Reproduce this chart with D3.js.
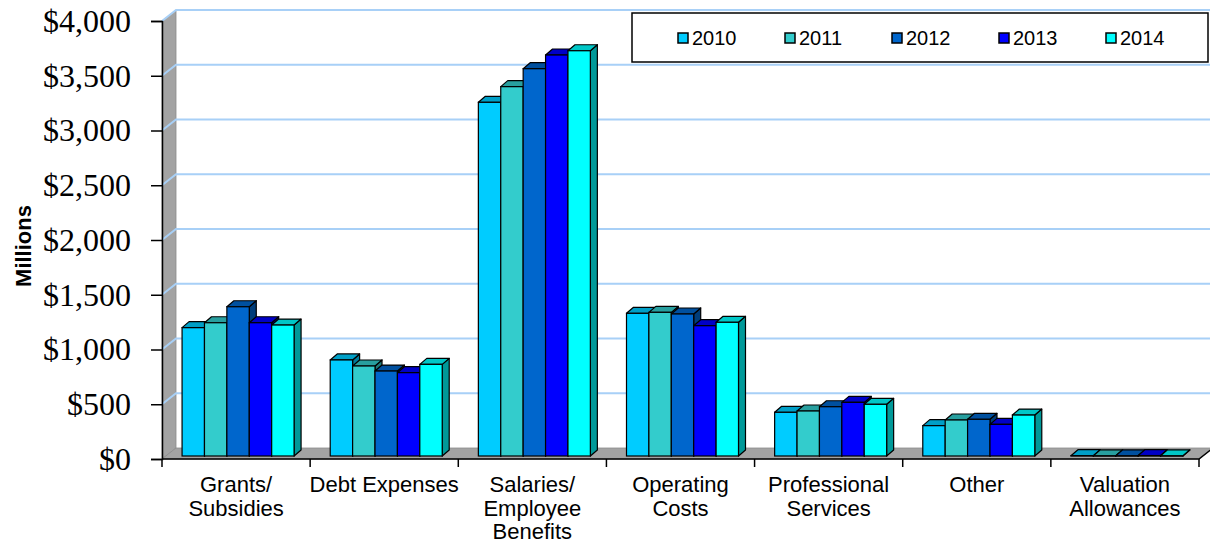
<!DOCTYPE html>
<html>
<head>
<meta charset="utf-8">
<script src="https://cdn.jsdelivr.net/npm/d3@7"></script>
<style>
  body { margin: 0; background: #fff; }
  svg { display: block; }
</style>
</head>
<body>
<div id="chart"></div>
<script>
var svgWidth = 1210;
var svgHeight = 545;

// data (millions)
var categories = ["Grants/\nSubsidies", "Debt Expenses", "Salaries/\nEmployee\nBenefits",
  "Operating\nCosts", "Professional\nServices", "Other", "Valuation\nAllowances"];
var years = ["2010", "2011", "2012", "2013", "2014"];
var values2010 = [1172, 877, 3230, 1303, 399, 277, 3];
var values2011 = [1217, 822, 3373, 1312, 411, 329, 2];
var values2012 = [1363, 776, 3537, 1297, 450, 335, 2];
var values2013 = [1217, 761, 3662, 1190, 490, 289, 4];
var values2014 = [1196, 837, 3701, 1221, 472, 374, 2];
var series = [values2010, values2011, values2012, values2013, values2014];
var colors = ["#00ccff", "#33cccc", "#0066cc", "#0000ff", "#00ffff"];
var yTicks = [0, 500, 1000, 1500, 2000, 2500, 3000, 3500, 4000];

// front plane of the fake 3d box
var x0 = 162, x1 = 1199;
var wallDx = 14, wallDy = -11;   // back wall offset
var barDx = 3, barDy = -3;       // front face of bars
var depthDx = 7, depthDy = -6;   // bar depth

var svg = d3.select("#chart")
  .append("svg")
  .attr("width", svgWidth)
  .attr("height", svgHeight);

var yScale = d3.scaleLinear()
  .domain([0, 4000])
  .range([459, 21]);

var xScale = d3.scaleBand()
  .domain(d3.range(categories.length))
  .range([x0, x1])
  .padding(0);

var groupW = 112;
var xInner = d3.scaleBand()
  .domain(years)
  .range([0, groupW])
  .padding(0);

var line = d3.line();

// side wall
svg.append("path")
  .attr("d", line([[x0, yScale(0)], [x0, yScale(4000)], [x0 + wallDx, yScale(4000) + wallDy], [x0 + wallDx, yScale(0) + wallDy]]) + "Z")
  .attr("fill", "#a3a3a3")
  .attr("stroke", "#8a8a8a")
  .attr("stroke-width", 0.8);

// floor
svg.append("path")
  .attr("d", line([[x0, yScale(0)], [x1, yScale(0)], [x1 + wallDx, yScale(0) + wallDy], [x0 + wallDx, yScale(0) + wallDy]]) + "Z")
  .attr("fill", "#a3a3a3")
  .attr("stroke", "#8a8a8a")
  .attr("stroke-width", 0.8);

// gridlines on the back wall and side wall
var grid = svg.append("g");
yTicks.slice(1).forEach(function (v) {
  grid.append("path")
    .attr("d", line([[x0, yScale(v)], [x0 + wallDx, yScale(v) + wallDy], [svgWidth + 5, yScale(v) + wallDy]]))
    .attr("fill", "none")
    .attr("stroke", "#a8d0f7")
    .attr("stroke-width", 2);
});

// bars
var barsGroup = svg.append("g");
categories.forEach(function (cat, ci) {
  var start = xScale(ci) + (xScale.bandwidth() - groupW) / 2 + 2;
  years.forEach(function (yr, si) {
    var v = series[si][ci];
    var bx = start + xInner(yr);
    var bw = xInner.bandwidth();
    var yt = yScale(v) + barDy;
    var yb = yScale(0) + barDy;
    var c = d3.rgb(colors[si]);
    var topC = d3.rgb(c.r * 0.78, c.g * 0.78, c.b * 0.78);
    var sideC = d3.rgb(c.r * 0.6, c.g * 0.6, c.b * 0.6);
    var g = barsGroup.append("g");
    g.append("path")
      .attr("d", line([[bx + bw, yt], [bx + bw + depthDx, yt + depthDy], [bx + bw + depthDx, yb + depthDy], [bx + bw, yb]]) + "Z")
      .attr("fill", sideC)
      .attr("stroke", "#000")
      .attr("stroke-width", 1.2)
      .attr("stroke-linejoin", "round");
    g.append("path")
      .attr("d", line([[bx, yt], [bx + bw, yt], [bx + bw + depthDx, yt + depthDy], [bx + depthDx, yt + depthDy]]) + "Z")
      .attr("fill", topC)
      .attr("stroke", "#000")
      .attr("stroke-width", 1.2)
      .attr("stroke-linejoin", "round");
    g.append("rect")
      .attr("x", bx)
      .attr("y", yt)
      .attr("width", bw)
      .attr("height", yb - yt)
      .attr("fill", c)
      .attr("stroke", "#000")
      .attr("stroke-width", 1.2);
  });
});

// y axis
var yAxis = svg.append("g")
  .attr("transform", `translate(${x0}, 0)`)
  .call(d3.axisLeft(yScale).tickValues(yTicks).tickSize(11).tickPadding(20)
    .tickFormat(function (d) { return "$" + d3.format(",")(d); }));
yAxis.select(".domain").attr("stroke", "#000").attr("stroke-width", 1.5);
yAxis.selectAll(".tick line").attr("stroke", "#000").attr("stroke-width", 1.5);
yAxis.selectAll(".tick text")
  .attr("font-family", "'Liberation Serif', 'Times New Roman', serif")
  .attr("font-size", 32)
  .attr("fill", "#000");

// x axis
var xAxis = svg.append("g")
  .attr("transform", `translate(0, ${yScale(0)})`);
xAxis.append("path")
  .attr("d", line([[x0, 0], [x1, 0], [x1 + wallDx, wallDy]]))
  .attr("fill", "none")
  .attr("stroke", "#000")
  .attr("stroke-width", 1.5);
d3.range(categories.length + 1).forEach(function (i) {
  var tx = x0 + i * xScale.bandwidth();
  xAxis.append("line")
    .attr("x1", tx).attr("x2", tx)
    .attr("y1", 0).attr("y2", 8)
    .attr("stroke", "#000")
    .attr("stroke-width", 1.5);
});

var labels = svg.append("g")
  .attr("font-family", "Arial, 'Liberation Sans', sans-serif")
  .attr("font-size", 22)
  .attr("fill", "#000")
  .attr("text-anchor", "middle");
categories.forEach(function (cat, ci) {
  var t = labels.append("text")
    .attr("x", xScale(ci) + xScale.bandwidth() / 2)
    .attr("y", 492);
  cat.split("\n").forEach(function (ln, li) {
    t.append("tspan")
      .attr("x", xScale(ci) + xScale.bandwidth() / 2)
      .attr("dy", li === 0 ? 0 : 23.5)
      .text(ln);
  });
});

// y title
svg.append("text")
  .attr("transform", "translate(31, 246) rotate(-90)")
  .attr("text-anchor", "middle")
  .attr("font-family", "Arial, 'Liberation Sans', sans-serif")
  .attr("font-weight", "bold")
  .attr("font-size", 22)
  .text("Millions");

// legend
var legend = svg.append("g");
legend.append("rect")
  .attr("x", 632).attr("y", 13)
  .attr("width", 576).attr("height", 49)
  .attr("fill", "#fff")
  .attr("stroke", "#000")
  .attr("stroke-width", 1.5);
years.forEach(function (yr, i) {
  var lx = 678 + i * 107;
  legend.append("rect")
    .attr("x", lx).attr("y", 33)
    .attr("width", 10).attr("height", 10)
    .attr("fill", colors[i])
    .attr("stroke", "#000")
    .attr("stroke-width", 1.5);
  legend.append("text")
    .attr("x", lx + 14).attr("y", 45)
    .attr("font-family", "Arial, 'Liberation Sans', sans-serif")
    .attr("font-size", 20)
    .text(yr);
});
</script>
</body>
</html>
